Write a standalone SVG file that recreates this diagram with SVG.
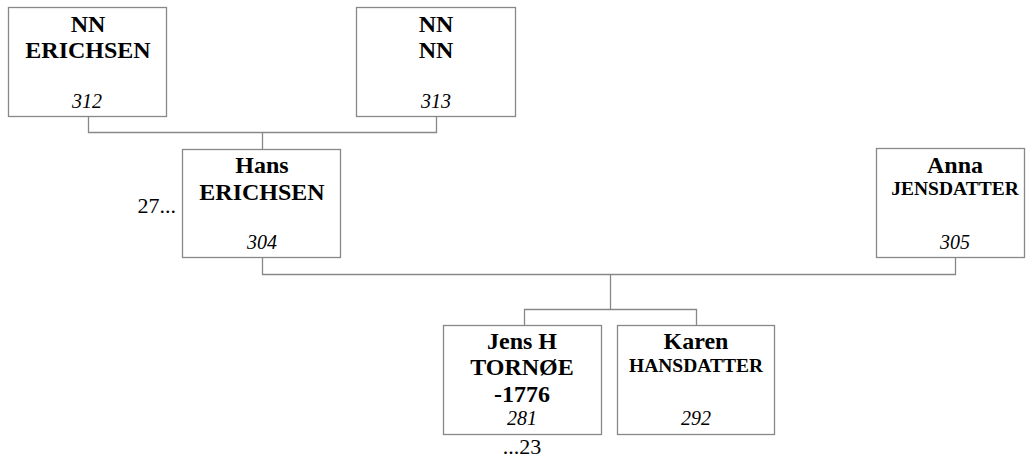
<svg xmlns="http://www.w3.org/2000/svg" width="1026" height="462" viewBox="0 0 1026 462">
<style>
.box{fill:#fff;stroke:#888;stroke-width:1.3}
.ln{fill:none;stroke:#888;stroke-width:1.3}
text{font-family:"Liberation Serif","Times New Roman",serif;fill:#000;text-anchor:middle}
.n{font-weight:bold;font-size:24px}
.s{font-weight:bold;font-size:19.5px}
.id{font-style:italic;font-size:20px}
.r{font-size:22px}
</style>
<rect width="1026" height="462" fill="#fff"/>
<g id="connectors">
<path class="ln" d="M88.5 116V132.5H436.5V116M262.5 132.5V149"/>
<path class="ln" d="M262.5 257V274.5H955.5V258M610.5 274.5V309.5M524.5 325V309.5H696.5V325"/>
</g>
<g id="n312"><rect class="box" x="8.5" y="7.5" width="158" height="109"/>
<text class="n" x="88" y="32">NN</text><text class="n" x="88" y="58">ERICHSEN</text><text class="id" x="87" y="108">312</text></g>
<g id="n313"><rect class="box" x="356.5" y="7.5" width="159" height="109"/>
<text class="n" x="436" y="32">NN</text><text class="n" x="436" y="58">NN</text><text class="id" x="436" y="108">313</text></g>
<g id="n304"><rect class="box" x="182.5" y="149.5" width="158" height="108"/>
<text class="n" x="262" y="173">Hans</text><text class="n" x="262" y="200">ERICHSEN</text><text class="id" x="262" y="249">304</text>
<text class="r" x="176" y="213" style="text-anchor:end">27...</text></g>
<g id="n305"><rect class="box" x="876.5" y="148.5" width="148" height="109"/>
<text class="n" x="955" y="173">Anna</text><text class="s" x="955" y="195">JENSDATTER</text><text class="id" x="955" y="249">305</text></g>
<g id="n281"><rect class="box" x="443.5" y="325.5" width="158" height="109"/>
<text class="n" x="522" y="349">Jens H</text><text class="n" x="522" y="375">TORNØE</text><text class="n" x="522" y="402">-1776</text><text class="id" x="522" y="425">281</text>
<text class="r" x="522" y="454">...23</text></g>
<g id="n292"><rect class="box" x="617.5" y="325.5" width="157" height="109"/>
<text class="n" x="696" y="349">Karen</text><text class="s" x="696" y="372">HANSDATTER</text><text class="id" x="696" y="425">292</text></g>
</svg>
